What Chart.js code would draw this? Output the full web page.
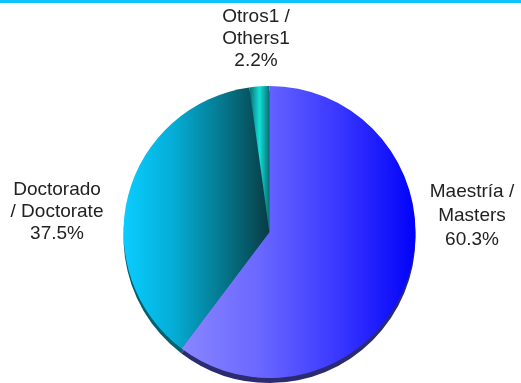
<!DOCTYPE html>
<html>

<head>
    <meta charset="utf-8">
    <script src="https://cdn.jsdelivr.net/npm/chart.js"></script>
    <style>
        html,
        body {
            height: 100%;
            margin: 0px;
            background: #fff;
            overflow: hidden;
        }

        .topbar {
            position: absolute;
            left: 0;
            top: 0;
            width: 521px;
            height: 3px;
            background: #0cc4fb;
        }

        .container {
            width: 521px;
            height: 383px;
        }
    </style>
</head>

<body>
    <div class="topbar"></div>
    <div class="container">
        <canvas id="myChart"></canvas>
    </div>

    <script>
        const categories = ['Maestría / Masters', 'Doctorado / Doctorate', 'Otros1 / Others1'];
        const shares = [60.3, 37.5, 2.2];
        const labelLines = [
            ['Maestría /', 'Masters', '60.3%'],
            ['Doctorado', '/ Doctorate', '37.5%'],
            ['Otros1 /', 'Others1', '2.2%']
        ];

        // gradient stops for each slice, left to right across its own width
        const sliceStops = [
            ['#8a86ff', '#6a68ff', '#3a38ff', '#0202fa'],
            ['#0acdff', '#04aed8', '#047a90', '#083c44'],
            ['#0a6e72', '#12e0d8', '#0a6e72']
        ];
        const sideColors = ['#2b2b72', '#04606e', '#04606e'];
        const labelAnchors = [[472, 192], [57, 190], [256, 17]];
        const labelSteps = [24, 22, 22];

        function sliceFill(context) {
            const area = context.chart.chartArea;
            if (!area) return sliceStops[context.dataIndex][0];
            const x = (area.left + area.right) / 2;
            const r = Math.min(area.width, area.height) / 2;
            // horizontal extents of each slice
            const extents = [[x - 89, x + r], [x - r, x], [x - 20, x]];
            const [x0, x1] = extents[context.dataIndex];
            const grad = context.chart.ctx.createLinearGradient(x0, 0, x1, 0);
            const stops = sliceStops[context.dataIndex];
            stops.forEach((c, i) => grad.addColorStop(i / (stops.length - 1), c));
            return grad;
        }

        const extrude = {
            id: 'extrude',
            beforeDatasetsDraw(chart) {
                const { ctx } = chart;
                chart.getDatasetMeta(0).data.forEach((arc, i) => {
                    const p = arc.getProps(['x', 'y', 'startAngle', 'endAngle', 'outerRadius'], true);
                    ctx.save();
                    ctx.fillStyle = sideColors[i];
                    ctx.beginPath();
                    ctx.moveTo(p.x, p.y + 5);
                    ctx.arc(p.x, p.y + 5, p.outerRadius, p.startAngle, p.endAngle);
                    ctx.closePath();
                    ctx.fill();
                    ctx.restore();
                });
            }
        };

        const sliceLabels = {
            id: 'sliceLabels',
            afterDraw(chart) {
                const { ctx } = chart;
                ctx.save();
                ctx.font = '19px "Liberation Sans", Arial, sans-serif';
                ctx.fillStyle = '#222222';
                ctx.textAlign = 'center';
                ctx.textBaseline = 'middle';
                labelLines.forEach((lines, i) => {
                    const [x, y] = labelAnchors[i];
                    lines.forEach((line, j) => ctx.fillText(line, x, y + j * labelSteps[i]));
                });
                ctx.restore();
            }
        };

        var context = document.getElementById('myChart').getContext('2d');
        var chart = new Chart(context, {
            type: 'pie',
            data: {
                labels: categories,
                datasets: [{
                    data: shares,
                    backgroundColor: sliceFill,
                    borderWidth: 0
                }]
            },
            options: {
                responsive: true,
                maintainAspectRatio: false,
                animation: false,
                layout: {
                    padding: { top: 86, bottom: 5, left: 18, right: 0 }
                },
                plugins: {
                    legend: { display: false },
                    tooltip: { enabled: false }
                }
            },
            plugins: [extrude, sliceLabels]
        });
    </script>
</body>

</html>
